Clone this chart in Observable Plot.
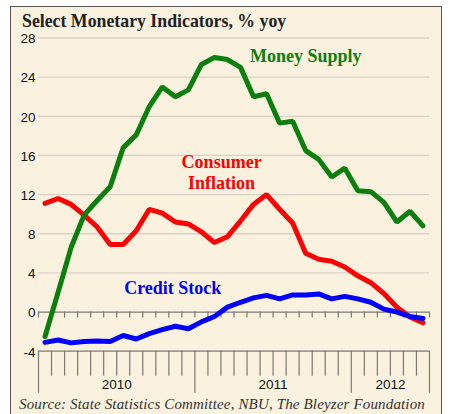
<!DOCTYPE html>
<html>
<head>
<meta charset="utf-8">
<script src="https://cdn.jsdelivr.net/npm/d3@7"></script>
<script src="https://cdn.jsdelivr.net/npm/@observablehq/plot@0.6"></script>
<style>
  html, body { margin: 0; padding: 0; background: #ffffff; width: 449px; height: 414px; overflow: hidden; }
  #frame { position: absolute; left: 10px; top: 6px; width: 432px; height: 420px;
           border: 1.6px solid #555; background: #faf1de; box-sizing: border-box; }
  #chart { position: absolute; left: 0; top: 0; }
  #title { position: absolute; left: 22px; top: 13px; font-family: "Liberation Serif", "Times New Roman", serif;
           font-weight: bold; font-size: 17.8px; line-height: 1; color: #222; white-space: nowrap; }
  #source { position: absolute; left: 19px; top: 397px; font-family: "Liberation Serif", "Times New Roman", serif;
            font-style: italic; font-size: 15px; line-height: 1; color: #333; white-space: nowrap; }
</style>
</head>
<body>
<div id="frame"></div>
<div id="chart"></div>
<div id="title">Select Monetary Indicators, % yoy</div>
<div id="source">Source: State Statistics Committee, NBU, The Bleyzer Foundation</div>
<script>
// Months (categories), Jan 2010 – Jun 2012
const months = [
  "2010-01","2010-02","2010-03","2010-04","2010-05","2010-06","2010-07","2010-08","2010-09","2010-10","2010-11","2010-12",
  "2011-01","2011-02","2011-03","2011-04","2011-05","2011-06","2011-07","2011-08","2011-09","2011-10","2011-11","2011-12",
  "2012-01","2012-02","2012-03","2012-04","2012-05","2012-06"
];
// Series values, % yoy
const moneySupply = [
  -2.5, 2.0, 6.6, 9.9, 11.4, 12.8, 16.8, 18.1, 21.0, 23.0, 22.0, 22.7,
  25.3, 26.0, 25.8, 25.0, 22.0, 22.3, 19.3, 19.5, 16.5, 15.6, 13.8, 14.7,
  12.4, 12.3, 11.2, 9.2, 10.3, 8.8
];
const consumerInflation = [
  11.1, 11.6, 11.0, 9.9, 8.7, 6.9, 6.9, 8.3, 10.5, 10.1, 9.2, 9.0,
  8.2, 7.1, 7.7, 9.3, 11.0, 12.0, 10.5, 9.1, 6.0, 5.4, 5.2, 4.6,
  3.7, 3.0, 1.9, 0.5, -0.5, -1.1
];
const creditStock = [
  -3.1, -2.85, -3.15, -3.0, -2.95, -3.0, -2.4, -2.75, -2.2, -1.8, -1.45, -1.7,
  -1.0, -0.45, 0.5, 1.0, 1.45, 1.7, 1.35, 1.75, 1.75, 1.85, 1.35, 1.6,
  1.35, 1.0, 0.3, 0.0, -0.45, -0.65
];
// Tick labels
const yTicks = [-4, 0, 4, 8, 12, 16, 20, 24, 28];
const gridValues = [4, 8, 12, 16, 20, 24, 28];
const years = ["2010", "2011", "2012"];
// Series labels
const seriesNames = ["Money Supply", "Consumer\nInflation", "Credit Stock"];
const seriesColors = ["#0b7f0b", "#ff0000", "#0000ff"];
const labelX = [20.5, 14.05, 10.3];
const labelY = [26.2, 14.3, 2.5];

// Build tables
const idx = months.map((m, i) => i);
const toRows = (vals) => vals.map((v, i) => ({x: i + 0.5, v}));
const yearOf = (m) => m.slice(0, 4);
const yearSpans = years.map(y => {
  const ii = idx.filter(i => yearOf(months[i]) === y);
  return {year: y, start: ii[0], end: ii[ii.length - 1] + 1};
});
const monthBounds = d3.range(months.length + 1);
const yearBounds = Array.from(new Set(yearSpans.flatMap(s => [s.start, s.end])));
const labels = seriesNames.map((n, i) => ({text: n, x: labelX[i], y: labelY[i], c: seriesColors[i]}));

const W = 449, H = 414, mL = 38, mR = 20, mT = 37.5, mB = 63.3;
const pxPerUnit = (H - mT - mB) / (28 - (-4));
const px = (p) => p / pxPerUnit; // convert pixel length to data units

const chart = Plot.plot({
  width: W, height: H,
  marginLeft: mL, marginRight: mR, marginTop: mT, marginBottom: mB,
  x: {domain: [0, months.length], axis: null},
  y: {domain: [-4, 28], axis: null},
  style: {background: "transparent", fontFamily: "'Liberation Sans', Arial, sans-serif", fontSize: "13.5px", color: "#111", overflow: "visible"},
  marks: [
    Plot.ruleY(gridValues, {stroke: "#d8d3c8", strokeWidth: 1.3}),
    Plot.ruleY([0, -4], {stroke: "#7d7a74", strokeWidth: 1.3}),
    Plot.ruleX(monthBounds, {x: d => d, y1: 0, y2: -px(6), stroke: "#7d7a74", strokeWidth: 1.2}),
    Plot.ruleX(monthBounds.filter(d => !yearBounds.includes(d)), {x: d => d, y1: -4, y2: -4 - px(25), stroke: "#7d7a74", strokeWidth: 1.2}),
    Plot.ruleX(yearBounds, {x: d => d, y1: -4, y2: -4 - px(42), stroke: "#7d7a74", strokeWidth: 1.2}),
    Plot.text(yearSpans, {x: d => (d.start + d.end) / 2, y: -4, dy: 33, text: "year", fill: "#111", fontSize: 13.5}),
    Plot.axisY(yTicks, {tickSize: 0, tickPadding: 3, tickFormat: d => String(d), fill: "#111", fontSize: 13.5, dy: 1}),
    Plot.line(toRows(consumerInflation), {x: "x", y: "v", stroke: seriesColors[1], strokeWidth: 5, strokeLinejoin: "miter"}),
    Plot.line(toRows(creditStock), {x: "x", y: "v", stroke: seriesColors[2], strokeWidth: 5, strokeLinejoin: "miter"}),
    Plot.line(toRows(moneySupply), {x: "x", y: "v", stroke: seriesColors[0], strokeWidth: 5, strokeLinejoin: "miter"}),
    Plot.text(labels, {x: "x", y: "y", text: "text", fill: "c", fontFamily: "'Liberation Serif', 'Times New Roman', serif",
      fontWeight: "bold", fontSize: 18, lineHeight: 1.17})
  ]
});
document.getElementById("chart").appendChild(chart);

// Stretch the source line to the reference's width (about 406px)
const src = document.getElementById("source");
const natural = src.getBoundingClientRect().width;
const n = src.textContent.length;
if (natural < 406) src.style.letterSpacing = ((406 - natural) / n).toFixed(3) + "px";
</script>
</body>
</html>
